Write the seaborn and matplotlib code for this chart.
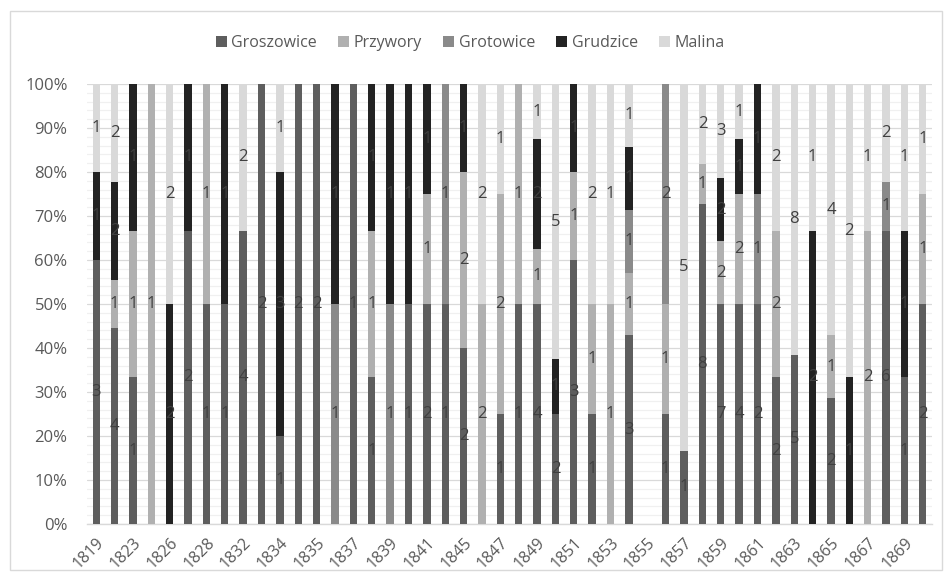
import numpy as np
import pandas as pd
import matplotlib
matplotlib.use("Agg")
import matplotlib.pyplot as plt
from matplotlib.patches import Patch, Rectangle
import seaborn as sns

# ---------------- data ----------------
years = ["1819", "1821", "1823", "1825", "1826", "1827", "1828", "1830", "1832", "1833",
         "1834", "1834", "1835", "1836", "1837", "1838", "1839", "1840", "1841", "1843",
         "1845", "1846", "1847", "1848", "1849", "1850", "1851", "1852", "1853", "1854",
         "1855", "1856", "1857", "1858", "1859", "1860", "1861", "1862", "1863", "1864",
         "1865", "1866", "1867", "1868", "1869", "1870"]
shown_labels = ["1819", "1823", "1826", "1828", "1832", "1834", "1835", "1837", "1839",
                "1841", "1845", "1847", "1849", "1851", "1853", "1855", "1857", "1859",
                "1861", "1863", "1865", "1867", "1869"]

series_names = ["Groszowice", "Przywory", "Grotowice", "Grudzice", "Malina"]
groszowice = [3, 4, 1, 0, 0, 2, 1, 1, 4, 2, 1, 2, 2, 0, 1, 1, 0, 1, 2, 1, 2, 0, 1, 1, 4,
              2, 3, 1, 0, 3, 0, 1, 1, 8, 7, 4, 2, 2, 5, 0, 2, 0, 0, 6, 1, 2]
przywory = [0, 1, 1, 1, 0, 0, 1, 0, 0, 0, 0, 0, 0, 0, 0, 1, 0, 0, 1, 0, 2, 2, 2, 1, 1,
            0, 1, 1, 1, 1, 0, 1, 0, 1, 2, 2, 0, 2, 0, 0, 1, 0, 2, 0, 0, 1]
grotowice = [0, 0, 0, 0, 0, 0, 0, 0, 0, 0, 0, 0, 0, 1, 0, 0, 1, 0, 0, 1, 0, 0, 0, 0, 0,
             0, 0, 0, 0, 1, 0, 2, 0, 0, 0, 0, 1, 0, 0, 0, 0, 0, 0, 1, 0, 0]
grudzice = [1, 2, 1, 0, 2, 1, 0, 1, 0, 0, 3, 0, 0, 1, 0, 1, 1, 1, 1, 0, 1, 0, 0, 0, 2,
            1, 1, 0, 0, 1, 0, 0, 0, 0, 2, 1, 1, 0, 0, 2, 0, 1, 0, 0, 1, 0]
malina = [1, 2, 0, 0, 2, 0, 0, 0, 2, 0, 1, 0, 0, 0, 0, 0, 0, 0, 0, 0, 0, 2, 1, 0, 1,
          5, 0, 2, 1, 1, 0, 0, 5, 2, 3, 1, 0, 2, 8, 1, 4, 2, 1, 2, 1, 1]

colors = ["#5e5e5e", "#b0b0b0", "#8a8a8a", "#232323", "#d9d9d9"]

# ---------------- build ----------------
counts = np.array([groszowice, przywory, grotowice, grudzice, malina], dtype=float)
totals = counts.sum(axis=0)
pct = np.divide(counts, totals, out=np.zeros_like(counts), where=totals > 0)
pos = np.arange(len(years))

sns.set_theme(style="white")
plt.rcParams["font.family"] = ["Open Sans", "DejaVu Sans"]

fig = plt.figure(figsize=(9.52, 5.8), dpi=100)
ax = fig.add_axes([87 / 952, 56 / 580, 845 / 952, 440 / 580])

bottom = np.zeros(len(years))
for i, name in enumerate(series_names):
    df = pd.DataFrame({"pos": pos, "pct": pct[i]})
    sns.barplot(data=df, x="pos", y="pct", color=colors[i], bottom=bottom,
                width=0.4, errorbar=None, saturation=1, ax=ax, zorder=3,
                linewidth=0)
    for j in range(len(years)):
        if counts[i, j] > 0:
            ax.text(pos[j], bottom[j] + pct[i, j] / 2, f"{int(counts[i, j])}",
                    ha="center", va="center", fontsize=12, color="#404040", zorder=5)
    bottom = bottom + pct[i]

ax.set_xlim(-0.5, len(years) - 0.5)
ax.set_ylim(0, 1)
ax.set_yticks(np.arange(0, 1.01, 0.1))
ax.set_yticklabels([f"{int(round(v * 100))}%" for v in np.arange(0, 1.01, 0.1)],
                   fontsize=12, color="#595959")
ax.set_yticks(np.arange(0, 1.001, 0.02), minor=True)
ax.set_xticks(pos[::2])
ax.set_xticklabels(shown_labels, rotation=45, ha="right", va="top",
                   rotation_mode="anchor", fontsize=11.5, color="#595959")
ax.tick_params(axis="both", which="both", length=0)
ax.tick_params(axis="x", pad=8)
ax.tick_params(axis="y", pad=14)
ax.set_xlabel("")
ax.set_ylabel("")
ax.grid(axis="y", which="major", color="#d9d9d9", linewidth=0.9, zorder=0)
ax.grid(axis="y", which="minor", color="#f0f0f0", linewidth=0.9, zorder=0)
ax.grid(axis="x", visible=False)
ax.set_axisbelow(True)
for s in ["left", "right", "top"]:
    ax.spines[s].set_visible(False)
ax.spines["bottom"].set_color("#d9d9d9")
ax.spines["bottom"].set_linewidth(1.0)

handles = [Patch(facecolor=c, edgecolor="none", label=n) for c, n in zip(colors, series_names)]
fig.legend(handles=handles, loc="center", bbox_to_anchor=(0.494, 0.926), ncol=5,
           frameon=False, fontsize=11.5, handlelength=0.7, handleheight=0.7,
           handletextpad=0.3, columnspacing=1.3, labelcolor="#595959")

fig.patches.append(Rectangle((10 / 952, 10 / 580), 932 / 952, 559 / 580,
                             transform=fig.transFigure, fill=False,
                             edgecolor="#d9d9d9", linewidth=1.0))

fig.savefig("out.png", dpi=100)
